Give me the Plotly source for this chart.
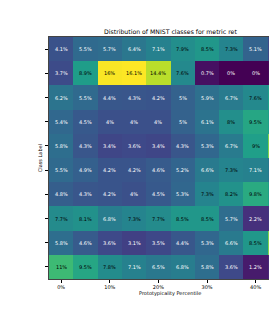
import plotly.graph_objects as go

classes = list(range(10))
percentile_cols = list(range(10))
tick_positions = [0, 2, 4, 6, 8]
tick_labels = ["0%", "10%", "20%", "30%", "40%"]

row0 = [4.1, 5.5, 5.7, 6.4, 7.1, 7.9, 8.5, 7.3, 5.1, 3.5]
row1 = [3.7, 8.9, 16.0, 16.1, 14.4, 7.6, 0.7, 0.0, 0.0, 0.3]
row2 = [6.2, 5.5, 4.4, 4.3, 4.2, 5.0, 5.9, 6.7, 7.6, 9.0]
row3 = [5.4, 4.5, 4.0, 4.0, 4.0, 5.0, 6.1, 8.0, 9.5, 9.0]
row4 = [5.8, 4.3, 3.4, 3.6, 3.4, 4.3, 5.3, 6.7, 9.0, 13.0]
row5 = [5.5, 4.9, 4.2, 4.2, 4.6, 5.2, 6.6, 7.3, 7.1, 6.5]
row6 = [4.8, 4.3, 4.2, 4.0, 4.5, 5.3, 7.3, 8.2, 9.8, 9.0]
row7 = [7.7, 8.1, 6.8, 7.3, 7.7, 8.5, 8.5, 5.7, 2.2, 2.5]
row8 = [5.8, 4.6, 3.6, 3.1, 3.5, 4.4, 5.3, 6.6, 8.5, 13.0]
row9 = [11.0, 9.5, 7.8, 7.1, 6.5, 6.8, 5.8, 3.6, 1.2, 1.8]

z = [row0, row1, row2, row3, row4, row5, row6, row7, row8, row9]

FONT = "DejaVu Sans"


def fmt(v):
    s = f"{v:.1f}"
    if s.endswith(".0"):
        s = s[:-2]
    return s + "%"


fig = go.Figure(
    go.Heatmap(
        z=z,
        x=percentile_cols,
        y=classes,
        colorscale="Viridis",
        zmin=0,
        zmax=16.1,
        showscale=False,
        hoverinfo="skip",
    )
)

annotations = []
for i, row in enumerate(z):
    for j, v in enumerate(row):
        annotations.append(
            dict(
                x=j, y=i, xref="x", yref="y", text=fmt(v), showarrow=False,
                font=dict(family=FONT, size=5, color="#000000" if v > 7.15 else "#ffffff"),
            )
        )

annotations.append(dict(
    x=0.55, y=1.022, xref="paper", yref="paper", xanchor="center", yanchor="middle",
    text="Distribution of MNIST classes for metric ret", showarrow=False,
    font=dict(family=FONT, size=6.2, color="#000000"),
))
annotations.append(dict(
    x=0.55, y=-0.058, xref="paper", yref="paper", xanchor="center", yanchor="middle",
    text="Prototypicality Percentile", showarrow=False,
    font=dict(family=FONT, size=5, color="#000000"),
))
annotations.append(dict(
    x=-0.04, y=0.5, xref="paper", yref="paper", xanchor="center", yanchor="middle",
    text="Class Label", showarrow=False, textangle=-90,
    font=dict(family=FONT, size=5, color="#000000"),
))

fig.update_layout(
    width=269,
    height=314,
    margin=dict(l=49, r=0, t=37, b=35),
    paper_bgcolor="white",
    plot_bgcolor="white",
    annotations=annotations,
    font=dict(family=FONT, size=5, color="#000000"),
)
fig.update_xaxes(
    range=[-0.5, 8.55],
    tickmode="array",
    tickvals=tick_positions,
    ticktext=tick_labels,
    ticks="outside",
    ticklen=3,
    tickwidth=0.6,
    tickcolor="#000000",
    tickfont=dict(family=FONT, size=5, color="#000000"),
    showline=True,
    linecolor="#444444",
    linewidth=0.8,
    mirror=True,
    showgrid=False,
    zeroline=False,
)
fig.update_yaxes(
    range=[9.5, -0.5],
    tickmode="array",
    tickvals=classes,
    ticktext=["" for _ in classes],
    ticks="outside",
    ticklen=3,
    tickwidth=0.6,
    tickcolor="#000000",
    showline=True,
    linecolor="#444444",
    linewidth=0.8,
    mirror=True,
    showgrid=False,
    zeroline=False,
)

page_fix = (
    "document.body.style.margin='0';"
    "document.body.style.overflow='hidden';"
    "document.documentElement.style.overflow='hidden';"
)

fig.write_html("out.html", post_script=page_fix, config={"displayModeBar": False})
